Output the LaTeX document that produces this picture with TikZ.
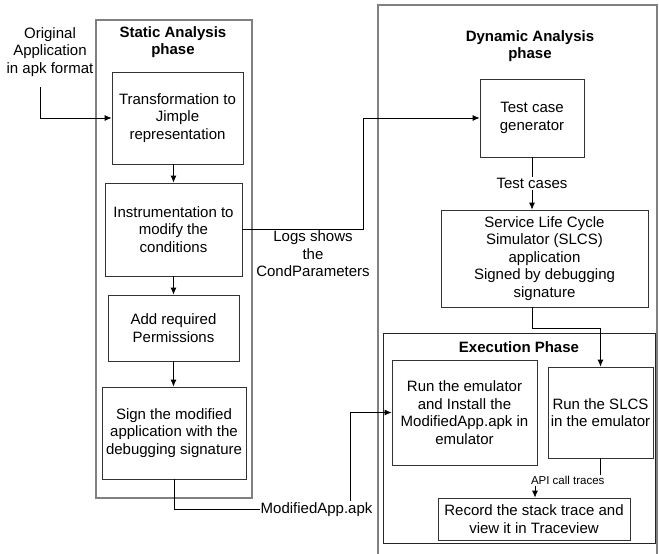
\documentclass[tikz,border=0pt]{standalone}
\usepackage{fontspec}
\setmainfont{Liberation Sans}
\usepackage{tikz}
\usetikzlibrary{arrows.meta}

\definecolor{framegray}{rgb}{0.5,0.5,0.5}

\begin{document}
\begin{tikzpicture}[x=1pt,y=-1pt,>={Latex[length=7pt,width=6pt]},
    txt/.style={align=center,font=\fontsize{15}{17.5}\selectfont},
    ttl/.style={align=center,font=\fontsize{15}{17.5}\selectfont\bfseries},
    blk/.style={txt,draw=black!80,line width=0.8pt,inner sep=0pt},
    frm/.style={draw=framegray,line width=1.1pt,inner sep=0pt},
    arr/.style={->,draw=black,line width=0.8pt},
    lbl/.style={txt,fill=white,inner sep=1pt}]
  \useasboundingbox (0,0) rectangle (659,554);

  % phases
  \node[frm,minimum width=156,minimum height=478] (static) at (174,259) {};
  \node[ttl] (statict) at (173,42) {Static Analysis\\phase};
  \draw[framegray,line width=1.1pt] (378,560) -- (378,5) -- (657,5) -- (657,560);
  \node[ttl] (dynt) at (530,46) {Dynamic Analysis\\phase};
  \node[draw=black!85,line width=1pt,minimum width=272,minimum height=210] (exec) at (519,438) {};
  \node[ttl] (exect) at (519,347) {Execution Phase};

  % static analysis
  \node[txt] (orig) at (50,52) {Original\\Application\\in apk format};
  \node[blk,minimum width=131,minimum height=92] (transf) at (177.5,118) {Transformation to\\Jimple\\representation};
  \node[blk,minimum width=137,minimum height=93] (instr) at (173.5,229.5) {Instrumentation to\\modify the\\conditions};
  \node[blk,minimum width=131,minimum height=66] (perm) at (173.5,328) {Add required\\Permissions};
  \node[blk,minimum width=144,minimum height=92] (sign) at (174,433) {Sign the modified\\application with the\\debugging signature};

  % dynamic analysis
  \node[blk,minimum width=104,minimum height=78] (testgen) at (532,118) {Test case\\generator};
  \node[blk,minimum width=207,minimum height=97] (slcs) at (544.5,258.5) {Service Life Cycle\\Simulator (SLCS)\\application\\Signed by debugging\\signature};
  \node[blk,minimum width=145,minimum height=105] (runemu) at (464.5,412.5) {Run the emulator\\and Install the\\ModifiedApp.apk in\\emulator};
  \node[blk,minimum width=105,minimum height=91] (runslcs) at (600.5,412.5) {Run the SLCS\\in the emulator};
  \node[blk,minimum width=192,minimum height=42] (record) at (534,519) {Record the stack trace and\\view it in Traceview};

  \coordinate (origout) at (40,87);
  \draw[arr] (origout) |- (transf.west);
  \draw[arr] (transf.south -| instr.north) -- (instr.north);
  \draw[arr] (instr.south) -- (perm.north);
  \draw[arr] (perm.south) -- (sign.north -| perm.south);

  \draw[arr] (instr.east) -- ++(121,0) |- (testgen.west);
  \node[txt] (logs) at (313,254) {Logs shows\\the\\CondParameters};

  \draw[arr] (sign.south) -- ++(0,30) -- node[lbl,pos=0.81] {ModifiedApp.apk} ++(176,0) |- (runemu.west);

  \draw[arr] (testgen.south) -- node[lbl] {Test cases} (testgen.south |- slcs.north);
  \draw[arr] (testgen.south |- slcs.south) -- ++(0,21) -| (runslcs.north);
  \draw[arr] (runslcs.south) -- ++(0,22) -| node[lbl,pos=0.25,font=\fontsize{11.5}{13}\selectfont] {API call traces} (record.north -| 535,0);
\end{tikzpicture}
\end{document}
